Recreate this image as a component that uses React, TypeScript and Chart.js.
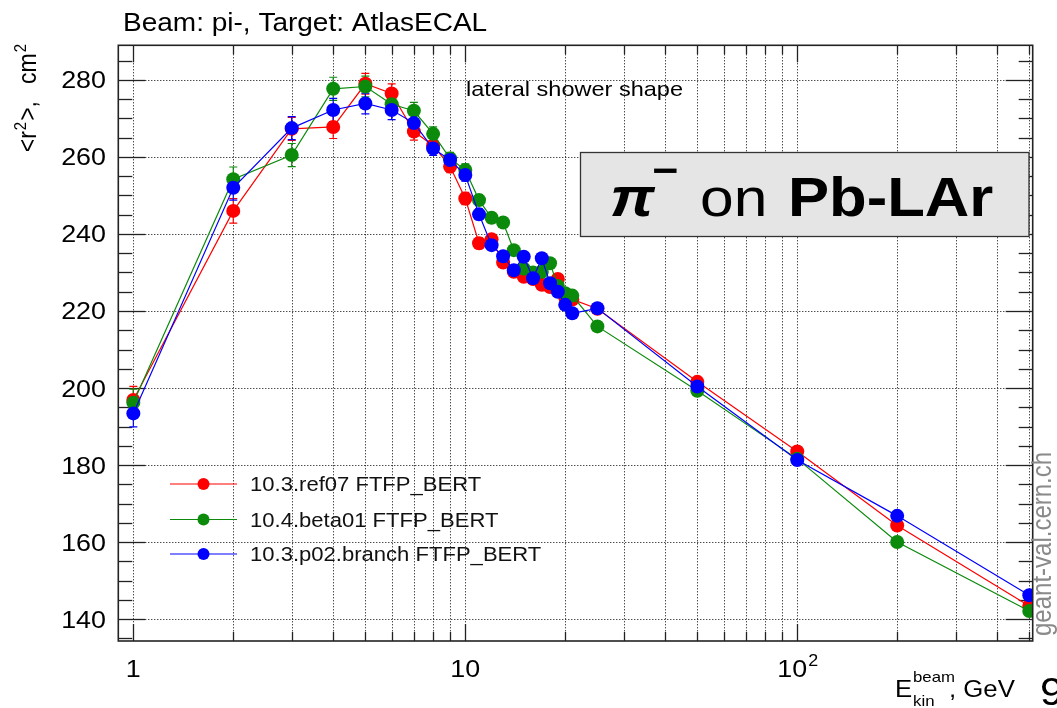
import React, { useEffect, useRef } from "react";
import { Chart, registerables } from "chart.js";

Chart.register(...registerables);

// ---------------- data ----------------
const energies = [1, 2, 3, 4, 5, 6, 7, 8, 9, 10, 11, 12, 13, 14, 15, 16, 17, 18, 19, 20, 21, 25, 50, 100, 200, 500];
const ref07 = [196.9, 246.0, 267.3, 267.8, 279.0, 276.5, 266.6, 263.0, 257.5, 249.2, 237.6, 238.6, 232.6, 230.2, 228.9, 228.3, 226.8, 226.2, 228.3, 223.5, 223.0, 220.6, 201.6, 183.5, 164.3, 143.4];
const beta01 = [196.2, 254.2, 260.5, 277.7, 278.3, 273.7, 272.0, 266.0, 259.6, 256.6, 248.8, 244.2, 243.0, 235.8, 231.0, 230.0, 230.2, 232.4, 226.5, 224.6, 224.0, 216.0, 199.3, 181.6, 160.0, 142.1];
const p02 = [193.4, 252.0, 267.5, 272.2, 273.9, 272.2, 268.8, 262.2, 259.2, 255.3, 245.1, 237.1, 234.2, 230.6, 234.1, 228.5, 233.7, 227.2, 225.0, 221.6, 219.4, 220.7, 200.4, 181.3, 166.8, 146.2];
const errors = [3.5, 3.2, 3.0, 3.0, 2.7, 2.5, 2.2, 1.8, 1.6, 1.6, 1.4, 1.3, 1.2, 1.1, 1.1, 1.1, 1.1, 1.1, 1.1, 1.1, 1.1, 0.8, 0.6, 0.5, 0.5, 0.5];

const seriesLabels = ["10.3.ref07 FTFP_BERT", "10.4.beta01 FTFP_BERT", "10.3.p02.branch FTFP_BERT"];
const seriesColors = ["#ff0000", "#0b8a0b", "#0000ff"];

const yTickValues = [140, 160, 180, 200, 220, 240, 260, 280];
const yMinorStep = 5;
const xMajorTicks = [1, 10, 100];
const xMajorLabels = ["1", "10", "10"];
const xMajorSup = ["", "", "2"];
const xMinorTicks = [2, 3, 4, 5, 6, 7, 8, 9, 20, 30, 40, 50, 60, 70, 80, 90, 200, 300, 400, 500];

const titleText = "Beam: pi-, Target: AtlasECAL";
const noteText = "lateral shower shape";
const watermark = "geant-val.cern.ch";

// ---------------- helpers ----------------
const FONT = '"Liberation Sans", Arial, Helvetica, sans-serif';
const SX = 1.12;

function drawText(
  ctx: CanvasRenderingContext2D,
  s: string,
  x: number,
  y: number,
  size: number,
  o: { weight?: string; style?: string; color?: string; align?: "left" | "right" | "center"; sx?: number } = {}
) {
  const sx = o.sx ?? SX;
  ctx.save();
  ctx.font = `${o.style ?? "normal"} ${o.weight ?? "normal"} ${size}px ${FONT}`;
  ctx.fillStyle = o.color ?? "#000";
  ctx.textBaseline = "alphabetic";
  ctx.textAlign = "left";
  const w = ctx.measureText(s).width * sx;
  let x0 = x;
  if (o.align === "right") x0 = x - w;
  else if (o.align === "center") x0 = x - w / 2;
  ctx.translate(x0, y);
  ctx.scale(sx, 1);
  ctx.fillText(s, 0, 0);
  ctx.restore();
  return w;
}

function measure(ctx: CanvasRenderingContext2D, s: string, size: number, weight = "normal", style = "normal") {
  ctx.save();
  ctx.font = `${style} ${weight} ${size}px ${FONT}`;
  const w = ctx.measureText(s).width;
  ctx.restore();
  return w;
}

function line(ctx: CanvasRenderingContext2D, x1: number, y1: number, x2: number, y2: number) {
  ctx.beginPath();
  ctx.moveTo(x1, y1);
  ctx.lineTo(x2, y2);
  ctx.stroke();
}

const rootPlugin = {
  id: "rootStyle",
  beforeDatasetsDraw(chart: any) {
    const { ctx, chartArea: a, scales } = chart;
    const xs = scales.x;
    const ys = scales.y;
    ctx.save();
    // dotted grid
    ctx.strokeStyle = "#000";
    ctx.lineWidth = 1;
    ctx.setLineDash([1, 2]);
    [...xMajorTicks, ...xMinorTicks].forEach((v) => {
      const px = Math.round(xs.getPixelForValue(v)) + 0.5;
      line(ctx, px, a.top, px, a.bottom);
    });
    yTickValues.forEach((v) => {
      const py = Math.round(ys.getPixelForValue(v)) + 0.5;
      line(ctx, a.left, py, a.right, py);
    });
    ctx.setLineDash([]);

    // ticks
    ctx.strokeStyle = "#222";
    ctx.lineWidth = 1.3;
    for (let v = Math.ceil(ys.min / yMinorStep) * yMinorStep; v <= ys.max; v += yMinorStep) {
      const py = Math.round(ys.getPixelForValue(v)) + 0.5;
      const major = yTickValues.includes(v);
      const len = major ? 27 : 14;
      line(ctx, a.left, py, a.left + len, py);
      line(ctx, a.right - len, py, a.right, py);
    }
    xMajorTicks.forEach((v) => {
      const px = Math.round(xs.getPixelForValue(v)) + 0.5;
      line(ctx, px, a.bottom, px, a.bottom - 17);
      line(ctx, px, a.top, px, a.top + 17);
    });
    xMinorTicks.forEach((v) => {
      const px = Math.round(xs.getPixelForValue(v)) + 0.5;
      line(ctx, px, a.bottom, px, a.bottom - 9);
      line(ctx, px, a.top, px, a.top + 9);
    });

    // error bars
    ctx.save();
    ctx.beginPath();
    ctx.rect(a.left, a.top, a.right - a.left, a.bottom - a.top);
    ctx.clip();
    chart.data.datasets.forEach((ds: any) => {
      ctx.strokeStyle = ds.borderColor;
      ctx.lineWidth = 1.2;
      ds.data.forEach((p: any, j: number) => {
        const px = xs.getPixelForValue(p.x);
        const y1 = ys.getPixelForValue(p.y + errors[j]);
        const y2 = ys.getPixelForValue(p.y - errors[j]);
        line(ctx, px, y1, px, y2);
        line(ctx, px - 4, y1, px + 4, y1);
        line(ctx, px - 4, y2, px + 4, y2);
      });
    });
    ctx.restore();
    ctx.restore();
  },
  afterDatasetsDraw(chart: any) {
    const { ctx, chartArea: a, scales } = chart;
    const xs = scales.x;
    const ys = scales.y;
    ctx.save();
    // frame
    ctx.strokeStyle = "#222";
    ctx.lineWidth = 1.6;
    ctx.strokeRect(a.left, a.top, a.right - a.left, a.bottom - a.top);

    // y tick labels
    yTickValues.forEach((v) => {
      const py = ys.getPixelForValue(v);
      drawText(ctx, String(v), 106, py + 8.5, 24, { align: "right" });
    });
    // x tick labels
    xMajorTicks.forEach((v, i) => {
      const px = xs.getPixelForValue(v);
      const main = xMajorLabels[i];
      const sup = xMajorSup[i];
      const wMain = measure(ctx, main, 24) * SX;
      const wSup = sup ? measure(ctx, sup, 16) * SX : 0;
      const x0 = px - (wMain + wSup) / 2;
      drawText(ctx, main, x0, 677, 24);
      if (sup) drawText(ctx, sup, x0 + wMain + 1, 666, 16);
    });

    // title
    drawText(ctx, titleText, 123, 31, 25);
    // note
    drawText(ctx, noteText, 466, 96, 21);

    // y axis title (rotated)
    const drawRot = (s: string, endY: number, baseX: number, size: number) => {
      ctx.save();
      ctx.translate(baseX, endY);
      ctx.rotate(-Math.PI / 2);
      ctx.scale(1, SX);
      ctx.font = `normal normal ${size}px ${FONT}`;
      ctx.fillStyle = "#000";
      ctx.textAlign = "right";
      ctx.fillText(s, 0, 0);
      ctx.restore();
    };
    drawRot("2", 44, 26, 15);
    drawRot("cm", 44 + measure(ctx, "2", 15) + 1, 36, 23);
    const lowerEnd = 101;
    drawRot(">,", lowerEnd, 36, 23);
    const wGt = measure(ctx, ">,", 23);
    drawRot("2", lowerEnd + wGt + 1, 26, 15);
    const w2 = measure(ctx, "2", 15);
    drawRot("<r", lowerEnd + wGt + w2 + 2, 36, 23);

    // x axis title
    drawText(ctx, "E", 895, 697, 23);
    drawText(ctx, "beam", 913, 682, 15);
    drawText(ctx, "kin", 913, 706, 15);
    drawText(ctx, ", GeV", 949, 697, 23);

    // legend
    const rows = [484, 519.5, 554];
    chart.data.datasets.forEach((ds: any, i: number) => {
      const yy = rows[i];
      ctx.strokeStyle = ds.borderColor;
      ctx.lineWidth = 1.2;
      line(ctx, 170, yy, 237, yy);
      ctx.fillStyle = ds.borderColor;
      ctx.beginPath();
      ctx.arc(203.5, yy, 6, 0, Math.PI * 2);
      ctx.fill();
      drawText(ctx, ds.label, 250, yy + 7, 19.7, { color: "#111" });
    });

    // label box
    ctx.fillStyle = "#e5e5e5";
    ctx.fillRect(580.5, 152.5, 448.5, 84);
    ctx.strokeStyle = "#333";
    ctx.lineWidth = 1.3;
    ctx.strokeRect(580.5, 152.5, 448.5, 84);
    drawText(ctx, "π", 610, 216, 56, { weight: "bold", style: "italic" });
    drawText(ctx, "−", 652, 184, 40, { weight: "bold" });
    drawText(ctx, "on", 700, 216, 54);
    drawText(ctx, "Pb-LAr", 788, 216, 55, { weight: "bold" });

    // watermark
    ctx.save();
    ctx.translate(1051, 636);
    ctx.rotate(-Math.PI / 2);
    ctx.scale(1, SX);
    ctx.font = `normal normal 24px ${FONT}`;
    ctx.fillStyle = "#8a8a8a";
    ctx.textAlign = "left";
    ctx.fillText(watermark, 0, 0);
    ctx.restore();

    // slide page number (cut off)
    drawText(ctx, "9", 1040, 705, 38);
    ctx.restore();
  },
};

export default function App() {
  const ref = useRef<HTMLCanvasElement | null>(null);
  useEffect(() => {
    if (!ref.current) return;
    const series = [ref07, beta01, p02];
    const chart = new Chart(ref.current, {
      type: "line",
      data: {
        datasets: series.map((vals, i) => ({
          label: seriesLabels[i],
          data: energies.map((e, j) => ({ x: e, y: vals[j] })),
          borderColor: seriesColors[i],
          backgroundColor: seriesColors[i],
          pointBackgroundColor: seriesColors[i],
          pointBorderWidth: 0,
          pointRadius: 7,
          pointHoverRadius: 7,
          borderWidth: 1.2,
          tension: 0,
          fill: false,
          order: 3 - i,
        })),
      },
      options: {
        responsive: false,
        devicePixelRatio: 1,
        animation: false,
        events: [],
        layout: { padding: { left: 118.3, top: 45.3, right: 24.3, bottom: 67 } },
        scales: {
          x: { type: "logarithmic", min: 0.901, max: 512, display: false },
          y: { type: "linear", min: 134.3, max: 289.0, display: false },
        },
        plugins: {
          legend: { display: false },
          tooltip: { enabled: false },
          title: { display: false },
        },
      },
      plugins: [rootPlugin],
    });
    return () => chart.destroy();
  }, []);
  return (
    <div style={{ position: "absolute", left: 0, top: 0, width: 1057, height: 708, background: "#fff" }}>
      <canvas ref={ref} width={1057} height={708} style={{ width: 1057, height: 708, display: "block" }} />
    </div>
  );
}
